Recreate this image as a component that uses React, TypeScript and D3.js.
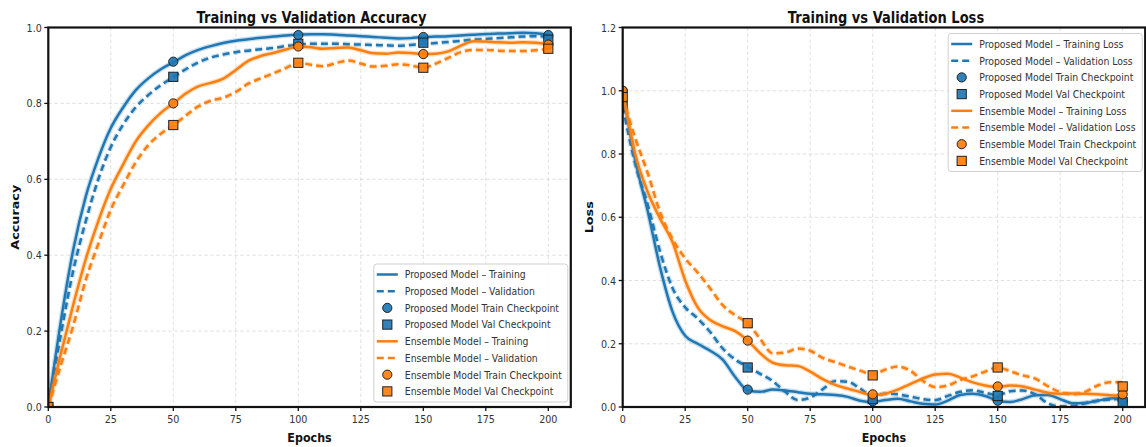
import React, { useEffect } from 'react';
import * as d3 from 'd3';

// ---------------- DATA ----------------
const EPOCHS = [0, 5, 10, 15, 20, 25, 30, 35, 40, 45, 50, 55, 60, 65, 70, 75, 80, 85, 90, 95, 100,
  105, 110, 115, 120, 125, 130, 135, 140, 145, 150, 155, 160, 165, 170, 175, 180, 185, 190, 195, 200];

const CHECKPOINT_EPOCHS = [0, 50, 100, 150, 200];

const ACC_PROPOSED_TRAIN = [0, 0.225, 0.415, 0.555, 0.655, 0.735, 0.79, 0.835, 0.866, 0.89, 0.908,
  0.927, 0.941, 0.951, 0.959, 0.965, 0.969, 0.973, 0.976, 0.979, 0.981,
  0.982, 0.982, 0.981, 0.979, 0.977, 0.975, 0.973, 0.971, 0.972, 0.975,
  0.976, 0.977, 0.979, 0.981, 0.983, 0.984, 0.985, 0.986, 0.985, 0.981];
const ACC_PROPOSED_VAL = [0, 0.19, 0.36, 0.49, 0.6, 0.685, 0.745, 0.79, 0.822, 0.848, 0.869,
  0.89, 0.908, 0.921, 0.929, 0.935, 0.939, 0.943, 0.946, 0.951, 0.955,
  0.957, 0.957, 0.957, 0.956, 0.955, 0.954, 0.953, 0.952, 0.954, 0.957,
  0.959, 0.962, 0.965, 0.968, 0.97, 0.972, 0.974, 0.976, 0.977, 0.975];
const ACC_ENSEMBLE_TRAIN = [0, 0.14, 0.27, 0.39, 0.49, 0.575, 0.64, 0.7, 0.742, 0.775, 0.8,
  0.826, 0.845, 0.854, 0.865, 0.888, 0.912, 0.925, 0.933, 0.942, 0.95,
  0.948, 0.944, 0.946, 0.947, 0.94, 0.932, 0.931, 0.934, 0.933, 0.93,
  0.931, 0.937, 0.952, 0.964, 0.963, 0.961, 0.96, 0.961, 0.96, 0.956];
const ACC_ENSEMBLE_VAL = [0, 0.11, 0.215, 0.335, 0.43, 0.52, 0.585, 0.645, 0.69, 0.72, 0.742,
  0.768, 0.792, 0.807, 0.815, 0.83, 0.852, 0.866, 0.879, 0.893, 0.907,
  0.902, 0.898, 0.906, 0.913, 0.905, 0.897, 0.899, 0.903, 0.9, 0.894,
  0.905, 0.92, 0.935, 0.941, 0.941, 0.939, 0.938, 0.938, 0.94, 0.944];

const ACC_CP_PROPOSED_TRAIN = [0, 0.91, 0.98, 0.975, 0.98];
const ACC_CP_PROPOSED_VAL = [0, 0.87, 0.957, 0.96, 0.968];
const ACC_CP_ENSEMBLE_TRAIN = [0, 0.8, 0.95, 0.93, 0.955];
const ACC_CP_ENSEMBLE_VAL = [0, 0.743, 0.907, 0.894, 0.944];

const LOSS_PROPOSED_TRAIN = [1.0, 0.78, 0.62, 0.44, 0.3, 0.225, 0.2, 0.178, 0.15, 0.095, 0.053,
  0.048, 0.055, 0.052, 0.047, 0.042, 0.04, 0.038, 0.032, 0.02, 0.016,
  0.022, 0.026, 0.018, 0.01, 0.008, 0.02, 0.038, 0.042, 0.035, 0.02,
  0.016, 0.025, 0.037, 0.038, 0.025, 0.012, 0.013, 0.02, 0.027, 0.03];
const LOSS_PROPOSED_VAL = [0.95, 0.77, 0.64, 0.49, 0.375, 0.315, 0.28, 0.237, 0.185, 0.15, 0.127,
  0.105, 0.082, 0.048, 0.022, 0.03, 0.056, 0.082, 0.08, 0.058, 0.035,
  0.042, 0.04, 0.033, 0.025, 0.022, 0.035, 0.048, 0.053, 0.045, 0.037,
  0.05, 0.052, 0.04, 0.012, 0.002, 0.003, 0.012, 0.02, 0.024, 0.026];
const LOSS_ENSEMBLE_TRAIN = [1.0, 0.8, 0.68, 0.595, 0.52, 0.4, 0.315, 0.275, 0.255, 0.24, 0.21,
  0.17, 0.14, 0.132, 0.13, 0.112, 0.088, 0.07, 0.058, 0.047, 0.038,
  0.042, 0.055, 0.072, 0.09, 0.103, 0.105, 0.093, 0.078, 0.068, 0.063,
  0.068, 0.065, 0.055, 0.045, 0.042, 0.043, 0.042, 0.04, 0.037, 0.036];
const LOSS_ENSEMBLE_VAL = [0.98, 0.85, 0.74, 0.615, 0.53, 0.47, 0.425, 0.375, 0.322, 0.29, 0.265,
  0.215, 0.17, 0.172, 0.185, 0.178, 0.155, 0.142, 0.128, 0.115, 0.103,
  0.118, 0.128, 0.115, 0.083, 0.063, 0.068, 0.085, 0.097, 0.112, 0.125,
  0.113, 0.1, 0.09, 0.066, 0.047, 0.04, 0.048, 0.068, 0.078, 0.078];

const LOSS_CP_PROPOSED_TRAIN = [1.0, 0.055, 0.018, 0.02, 0.02];
const LOSS_CP_PROPOSED_VAL = [0.95, 0.125, 0.025, 0.035, 0.015];
const LOSS_CP_ENSEMBLE_TRAIN = [1.0, 0.21, 0.04, 0.065, 0.04];
const LOSS_CP_ENSEMBLE_VAL = [0.98, 0.265, 0.1, 0.125, 0.065];

const X_TICKS = [0, 25, 50, 75, 100, 125, 150, 175, 200];
const ACC_Y_TICKS = [0, 0.2, 0.4, 0.6, 0.8, 1.0];
const LOSS_Y_TICKS = [0, 0.2, 0.4, 0.6, 0.8, 1.0, 1.2];

const ACC_LABELS = [
  'Proposed Model – Training', 'Proposed Model – Validation',
  'Proposed Model Train Checkpoint', 'Proposed Model Val Checkpoint',
  'Ensemble Model – Training', 'Ensemble Model – Validation',
  'Ensemble Model Train Checkpoint', 'Ensemble Model Val Checkpoint',
];
const LOSS_LABELS = [
  'Proposed Model – Training Loss', 'Proposed Model – Validation Loss',
  'Proposed Model Train Checkpoint', 'Proposed Model Val Checkpoint',
  'Ensemble Model – Training Loss', 'Ensemble Model – Validation Loss',
  'Ensemble Model Train Checkpoint', 'Ensemble Model Val Checkpoint',
];

// ---------------- STYLE ----------------
const BLUE = '#1f77b4';
const ORANGE = '#ff7f0e';
const FONT = 'DejaVu Sans, sans-serif';
const SQX = 0.87; // horizontal squeeze of text
const W = 1146, H = 447;
const TOP = 27.5, BOTTOM = 407;
const X_MAX = 209;

function Txt({ x, y, size, weight = 'normal', anchor = 'start', rotate = 0, fill = '#222', children }: any) {
  return (
    <text transform={`translate(${x},${y}) scale(${SQX},1)${rotate ? ` rotate(${rotate})` : ''}`}
      fontFamily={FONT} fontSize={size} fontWeight={weight} textAnchor={anchor} fill={fill}>
      {children}
    </text>
  );
}

function Marker({ kind, cx, cy, color }: any) {
  if (kind === 'circle') {
    return <circle cx={cx} cy={cy} r={4.6} fill={color} fillOpacity={0.92} stroke="#222" strokeWidth={1} />;
  }
  return <rect x={cx - 4.6} y={cy - 4.6} width={9.2} height={9.2} fill={color} fillOpacity={0.92} stroke="#222" strokeWidth={1} />;
}

function Panel({ id, x0, x1, yMax, yTicks, title, ylabel, lines, cps, labels, legendPos, ylabelX }: any) {
  const x = d3.scaleLinear().domain([0, X_MAX]).range([x0, x1]);
  const y = d3.scaleLinear().domain([0, yMax]).range([BOTTOM, TOP]);
  const line = d3.line<[number, number]>().x(d => x(d[0])).y(d => y(d[1])).curve(d3.curveMonotoneX);

  const legW = 194, legH = 138;
  const legX = x1 - 3 - legW;
  const legY = legendPos === 'lower right' ? BOTTOM - 5 - legH : TOP + 6;
  const rowGap = 16.7;

  const legendItems = [
    { type: 'line', color: BLUE, dash: null },
    { type: 'line', color: BLUE, dash: '7,4' },
    { type: 'circle', color: BLUE },
    { type: 'square', color: BLUE },
    { type: 'line', color: ORANGE, dash: null },
    { type: 'line', color: ORANGE, dash: '7,4' },
    { type: 'circle', color: ORANGE },
    { type: 'square', color: ORANGE },
  ];

  const fmt = d3.format('.1f');
  const order = [0, 1, 'cp0', 'cp1', 2, 3, 'cp2', 'cp3'];
  const clipId = `clip-${id}`;

  return (
    <g>
      <defs>
        <clipPath id={clipId}>
          <rect x={x0} y={TOP} width={x1 - x0} height={BOTTOM - TOP} />
        </clipPath>
      </defs>
      {/* grid */}
      {X_TICKS.map(t => (
        <line key={'gx' + t} x1={x(t)} x2={x(t)} y1={TOP} y2={BOTTOM} stroke="#b8b8b8" strokeOpacity={0.55}
          strokeWidth={0.8} strokeDasharray="3.5,2.5" />
      ))}
      {yTicks.map((t: number) => (
        <line key={'gy' + t} x1={x0} x2={x1} y1={y(t)} y2={y(t)} stroke="#b8b8b8" strokeOpacity={0.55}
          strokeWidth={0.8} strokeDasharray="3.5,2.5" />
      ))}
      {/* series */}
      <g clipPath={`url(#${clipId})`}>
        {order.map((o: any) => {
          if (typeof o === 'number') {
            const s = lines[o];
            const pts: [number, number][] = EPOCHS.map((e, i) => [e, s.values[i]]);
            const d = line(pts) || '';
            return (
              <g key={'l' + o}>
                <path d={d} fill="none" stroke={s.color} strokeOpacity={0.25} strokeWidth={5}
                  strokeDasharray={s.dash || undefined} strokeLinecap="butt" />
                <path d={d} fill="none" stroke={s.color} strokeWidth={2.5}
                  strokeDasharray={s.dash || undefined} strokeLinecap="butt" />
              </g>
            );
          }
          const c = cps[Number(o.slice(2))];
          return (
            <g key={o}>
              {CHECKPOINT_EPOCHS.map((e, i) => (
                <Marker key={e} kind={c.kind} cx={x(e)} cy={y(c.values[i])} color={c.color} />
              ))}
            </g>
          );
        })}
      </g>
      {/* spines */}
      <rect x={x0} y={TOP} width={x1 - x0} height={BOTTOM - TOP} fill="none" stroke="#111" strokeWidth={2.2} />
      {/* ticks */}
      {X_TICKS.map(t => (
        <g key={'tx' + t}>
          <line x1={x(t)} x2={x(t)} y1={BOTTOM} y2={BOTTOM + 4} stroke="#111" strokeWidth={1.3} />
          <Txt x={x(t)} y={BOTTOM + 16} size={11} anchor="middle" fill="#333">{String(t)}</Txt>
        </g>
      ))}
      {yTicks.map((t: number) => (
        <g key={'ty' + t}>
          <line x1={x0 - 4} x2={x0} y1={y(t)} y2={y(t)} stroke="#111" strokeWidth={1.3} />
          <Txt x={x0 - 6.5} y={y(t) + 4} size={11} anchor="end" fill="#333">{fmt(t)}</Txt>
        </g>
      ))}
      {/* labels */}
      <Txt x={(x0 + x1) / 2 + 2} y={22.5} size={15} weight="bold" anchor="middle" fill="#111">{title}</Txt>
      <Txt x={(x0 + x1) / 2} y={441.5} size={12.8} weight="bold" anchor="middle" fill="#111">Epochs</Txt>
      <Txt x={ylabelX} y={(TOP + BOTTOM) / 2} size={12.8} weight="bold" anchor="middle" rotate={-90} fill="#111">{ylabel}</Txt>
      {/* legend */}
      <g>
        <rect x={legX} y={legY} width={legW} height={legH} rx={3} fill="#fff" fillOpacity={0.85}
          stroke="#d0d0d0" strokeWidth={1} />
        {legendItems.map((it, i) => {
          const cy = legY + 10.5 + i * rowGap;
          return (
            <g key={'lg' + i}>
              {it.type === 'line' ? (
                <line x1={legX + 3} x2={legX + 24} y1={cy} y2={cy} stroke={it.color} strokeWidth={2.5}
                  strokeDasharray={it.dash || undefined} />
              ) : (
                <Marker kind={it.type} cx={legX + 13.5} cy={cy} color={it.color} />
              )}
              <Txt x={legX + 31} y={cy + 3.8} size={10.7} fill="#333">{labels[i]}</Txt>
            </g>
          );
        })}
      </g>
    </g>
  );
}

export default function App() {
  useEffect(() => {
    document.body.style.margin = '0';
  }, []);

  const accLines = [
    { values: ACC_PROPOSED_TRAIN, color: BLUE, dash: null },
    { values: ACC_PROPOSED_VAL, color: BLUE, dash: '7,4' },
    { values: ACC_ENSEMBLE_TRAIN, color: ORANGE, dash: null },
    { values: ACC_ENSEMBLE_VAL, color: ORANGE, dash: '7,4' },
  ];
  const accCps = [
    { values: ACC_CP_PROPOSED_TRAIN, color: BLUE, kind: 'circle' },
    { values: ACC_CP_PROPOSED_VAL, color: BLUE, kind: 'square' },
    { values: ACC_CP_ENSEMBLE_TRAIN, color: ORANGE, kind: 'circle' },
    { values: ACC_CP_ENSEMBLE_VAL, color: ORANGE, kind: 'square' },
  ];
  const lossLines = [
    { values: LOSS_PROPOSED_TRAIN, color: BLUE, dash: null },
    { values: LOSS_PROPOSED_VAL, color: BLUE, dash: '7,4' },
    { values: LOSS_ENSEMBLE_TRAIN, color: ORANGE, dash: null },
    { values: LOSS_ENSEMBLE_VAL, color: ORANGE, dash: '7,4' },
  ];
  const lossCps = [
    { values: LOSS_CP_PROPOSED_TRAIN, color: BLUE, kind: 'circle' },
    { values: LOSS_CP_PROPOSED_VAL, color: BLUE, kind: 'square' },
    { values: LOSS_CP_ENSEMBLE_TRAIN, color: ORANGE, kind: 'circle' },
    { values: LOSS_CP_ENSEMBLE_VAL, color: ORANGE, kind: 'square' },
  ];

  return (
    <svg width={W} height={H} viewBox={`0 0 ${W} ${H}`}
      style={{ position: 'absolute', left: 0, top: 0, background: '#fff', display: 'block' }}>
      <rect x={0} y={0} width={W} height={H} fill="#fff" />
      <Panel id="acc" x0={48.3} x1={48.3 + 2.5 * X_MAX} yMax={1.0} yTicks={ACC_Y_TICKS}
        title="Training vs Validation Accuracy" ylabel="Accuracy" ylabelX={19}
        lines={accLines} cps={accCps} labels={ACC_LABELS} legendPos="lower right" />
      <Panel id="loss" x0={622.7} x1={622.7 + 2.5 * X_MAX} yMax={1.2} yTicks={LOSS_Y_TICKS}
        title="Training vs Validation Loss" ylabel="Loss" ylabelX={593}
        lines={lossLines} cps={lossCps} labels={LOSS_LABELS} legendPos="upper right" />
    </svg>
  );
}
